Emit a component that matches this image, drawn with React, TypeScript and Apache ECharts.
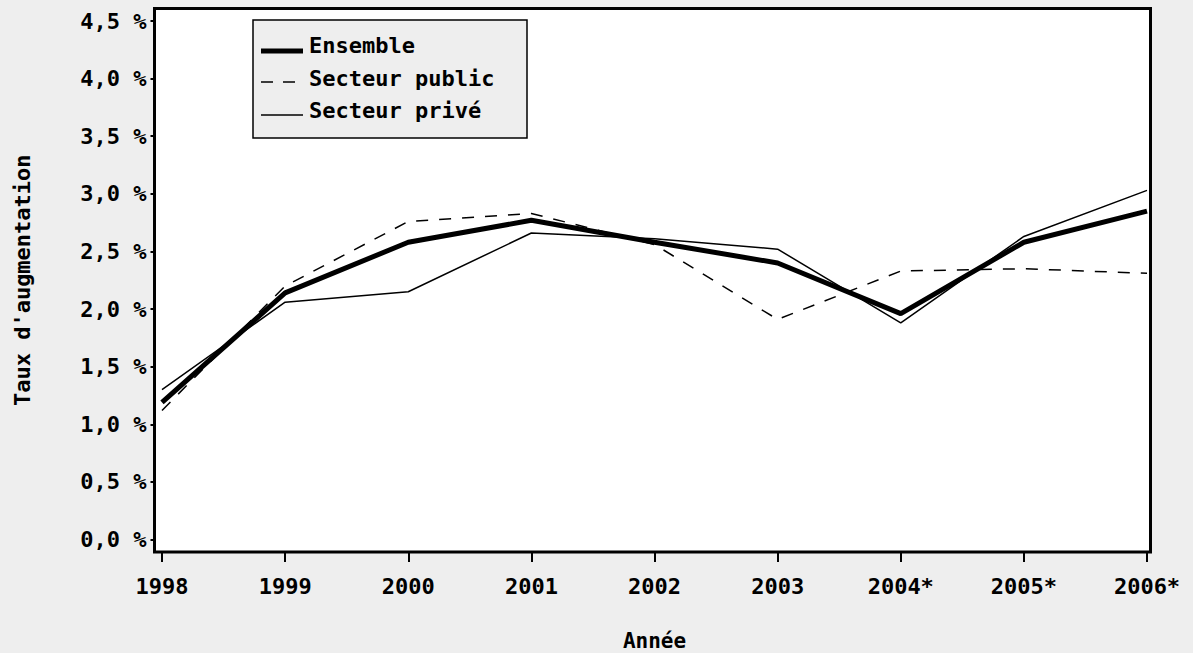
import React, { useEffect, useRef } from "react";
import * as echarts from "echarts";

const years = ["1998", "1999", "2000", "2001", "2002", "2003", "2004*", "2005*", "2006*"];
const ensemble = [1.19, 2.14, 2.58, 2.77, 2.58, 2.4, 1.96, 2.58, 2.85];
const secteurPublic = [1.12, 2.2, 2.76, 2.83, 2.56, 1.91, 2.33, 2.35, 2.31];
const secteurPrive = [1.3, 2.06, 2.15, 2.66, 2.61, 2.52, 1.88, 2.63, 3.03];
const seriesNames = ["Ensemble", "Secteur public", "Secteur privé"];

const FONT = "DejaVu Sans Mono";

export default function App() {
  const ref = useRef<HTMLDivElement>(null);
  useEffect(() => {
    const chart = echarts.init(ref.current!, null, { renderer: "svg" });
    const txt = { fontFamily: FONT, fontWeight: "bold" as const, fontSize: 22, color: "#000" };
    const legendFont = `bold 22px "${FONT}"`;
    const legendRows = [
      { textY: 45, lineY: 51, width: 5, dash: null as number[] | null },
      { textY: 78, lineY: 82, width: 1.5, dash: [12, 10] },
      { textY: 110, lineY: 115, width: 1.5, dash: null },
    ];
    const legendGraphics: any[] = [
      {
        type: "rect",
        z: 10,
        shape: { x: 253, y: 20, width: 274, height: 118 },
        style: { fill: "#eeeeee", stroke: "#000", lineWidth: 1.5 },
      },
    ];
    legendRows.forEach((r, i) => {
      legendGraphics.push({
        type: "line",
        z: 11,
        shape: { x1: 261, y1: r.lineY, x2: 303, y2: r.lineY },
        style: { stroke: "#000", lineWidth: r.width, lineDash: r.dash || undefined },
      });
      legendGraphics.push({
        type: "text",
        z: 11,
        x: 309,
        y: r.textY,
        style: {
          text: seriesNames[i],
          font: legendFont,
          fill: "#000",
          verticalAlign: "middle",
          align: "left",
        },
      });
    });
    chart.setOption({
      animation: false,
      backgroundColor: "#eeeeee",
      textStyle: { fontFamily: FONT },
      grid: { left: 162, right: 46, top: 21, bottom: 113.5, outerBoundsMode: "none", containLabel: false },
      graphic: [
        {
          type: "rect",
          z: -1,
          shape: { x: 154.5, y: 8.5, width: 996, height: 543.5 },
          style: { fill: "#ffffff", stroke: "#000000", lineWidth: 3 },
        },
        ...legendGraphics,
      ],
      xAxis: {
        type: "category",
        data: years,
        boundaryGap: false,
        offset: 12.5,
        axisLine: { show: false, onZero: false },
        axisTick: { show: true, inside: false, length: 10, lineStyle: { color: "#000", width: 2 } },
        axisLabel: { ...txt, margin: 23 },
        splitLine: { show: false },
        name: "Année",
        nameLocation: "middle",
        nameGap: 78,
        nameTextStyle: { ...txt, fontSize: 21 },
      },
      yAxis: {
        type: "value",
        min: 0,
        max: 4.5,
        interval: 0.5,
        offset: 7.5,
        axisLine: { show: false, onZero: false },
        axisTick: { show: true, inside: false, length: 4, lineStyle: { color: "#000", width: 2 } },
        axisLabel: {
          ...txt,
          margin: 8,
          formatter: (v: number) => v.toFixed(1).replace(".", ",") + " %",
        },
        splitLine: { show: false },
        name: "Taux d'augmentation",
        nameLocation: "middle",
        nameRotate: 90,
        nameGap: 121,
        nameTextStyle: { ...txt, fontSize: 22 },
      },
      series: [
        {
          name: seriesNames[1],
          type: "line",
          data: secteurPublic,
          symbol: "none",
          lineStyle: { color: "#000", width: 1.5, type: [12, 11] },
          itemStyle: { color: "#000" },
        },
        {
          name: seriesNames[2],
          type: "line",
          data: secteurPrive,
          symbol: "none",
          lineStyle: { color: "#000", width: 1.5 },
          itemStyle: { color: "#000" },
        },
        {
          name: seriesNames[0],
          type: "line",
          data: ensemble,
          symbol: "none",
          lineStyle: { color: "#000", width: 5 },
          itemStyle: { color: "#000" },
        },
      ],
    });
    return () => chart.dispose();
  }, []);
  return (
    <div
      ref={ref}
      style={{ position: "fixed", left: 0, top: 0, width: 1193, height: 653 }}
    />
  );
}
